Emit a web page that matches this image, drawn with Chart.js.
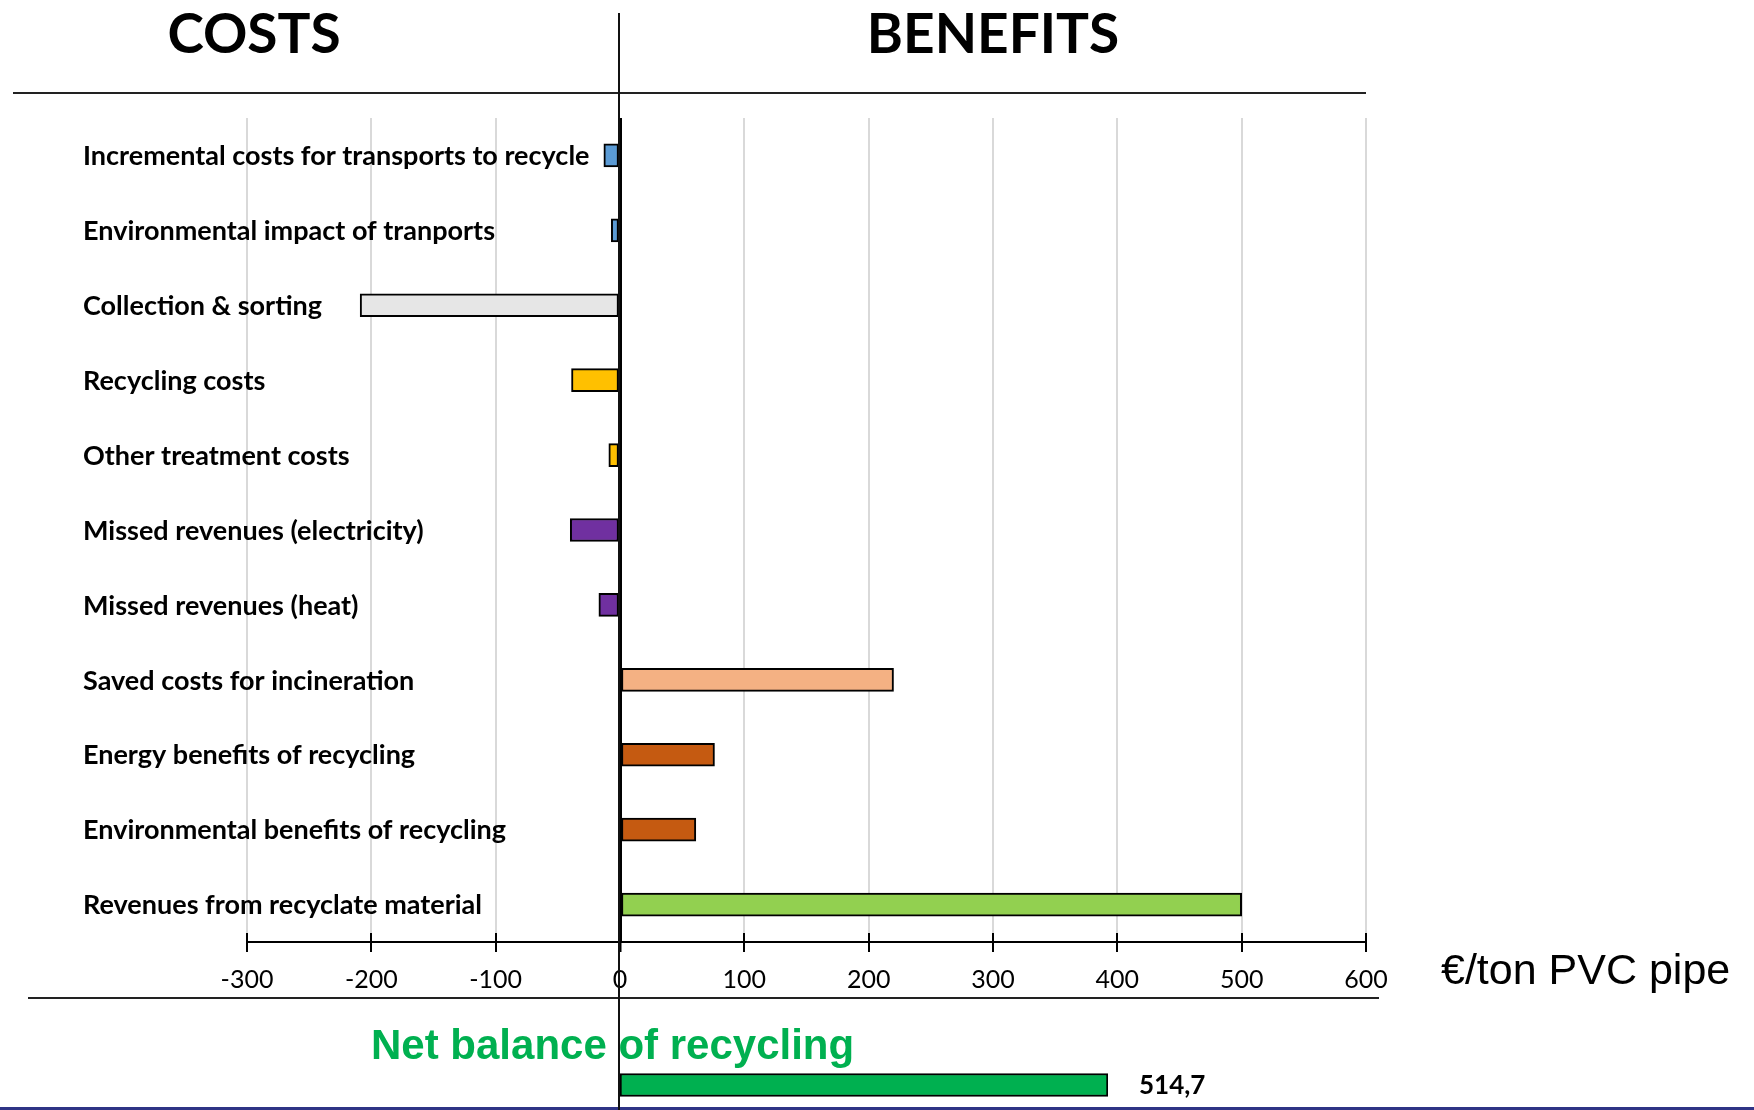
<!DOCTYPE html>
<html>
<head>
<meta charset="utf-8">
<script src="https://cdn.jsdelivr.net/npm/chart.js@4/dist/chart.umd.min.js"></script>
<style>
  html, body { margin: 0; padding: 0; background: #fff; }
  #wrap { position: relative; width: 1754px; height: 1110px; overflow: hidden; background: #fff; }
  canvas { position: absolute; left: 0; }
  .t { position: absolute; white-space: nowrap; line-height: 1; }
  .ln { position: absolute; }
</style>
</head>
<body>
<div id="wrap">
  <canvas id="main" width="1754" height="1110" style="top:0"></canvas>
  <canvas id="net" width="1754" height="50" style="top:1060px"></canvas>

  <div class="t" style="left:154px;width:200px;text-align:center;top:-1px;font:700 55px Lato;color:#000">COSTS</div>
  <div class="t" style="left:843px;width:300px;text-align:center;top:-1px;font:700 55px Lato;color:#000">BENEFITS</div>
  <div class="t" style="left:1441px;top:945px;font:400 43px 'Liberation Sans';color:#000">€/ton PVC pipe</div>
  <div class="t" style="left:371px;top:1021px;font:700 42px 'Liberation Sans';color:#00b050">Net balance of recycling</div>

  <div class="ln" style="left:13px;top:92px;width:1353px;height:2px;background:#222"></div>
  <div class="ln" style="left:28px;top:997px;width:1351px;height:2px;background:#222"></div>
  <div class="ln" style="left:618px;top:13px;width:2px;height:1097px;background:#111;z-index:5"></div>
  <div class="ln" style="left:0;top:1107px;width:1754px;height:3px;background:#2f3485"></div>
</div>
<script>
// ---- data ----
const categories = [
  "Incremental costs for transports to recycle",
  "Environmental impact of tranports",
  "Collection & sorting",
  "Recycling costs",
  "Other treatment costs",
  "Missed revenues (electricity)",
  "Missed revenues (heat)",
  "Saved costs for incineration",
  "Energy benefits of recycling",
  "Environmental benefits of recycling",
  "Revenues from recyclate material"
];
const values = [-13, -7, -209, -39, -9, -40, -17, 220, 76, 61, 500];
const xTicksMin = -300;
const xTicksMax = 600;
const xTickStep = 100;
const netBalance = 514.7;

// ---- styles ----
const barColors = ["#5b9bd5", "#5b9bd5", "#e6e6e6", "#ffc000", "#ffc000",
                   "#7030a0", "#7030a0", "#f4b183", "#c55a11", "#c55a11", "#92d050"];

const categoryLabelPlugin = {
  id: 'catLabels',
  afterDraw(chart) {
    const ctx = chart.ctx;
    const ys = chart.scales.y;
    const xs = chart.scales.x;
    ctx.save();
    ctx.font = '700 27px Lato';
    ctx.fillStyle = '#000';
    ctx.textAlign = 'left';
    ctx.textBaseline = 'middle';
    categories.forEach((c, i) => {
      ctx.fillText(c, 83, ys.getPixelForValue(i) + 1);
    });
    // tick marks crossing the axis (upper half)
    ctx.strokeStyle = '#000';
    ctx.lineWidth = 2;
    const b = chart.chartArea.bottom;
    xs.ticks.forEach(t => {
      const px = Math.round(xs.getPixelForValue(t.value));
      ctx.beginPath();
      ctx.moveTo(px, b - 9);
      ctx.lineTo(px, b);
      ctx.stroke();
    });
    ctx.restore();
  }
};

new Chart(document.getElementById('main'), {
  type: 'bar',
  data: {
    labels: categories,
    datasets: [{
      data: values,
      backgroundColor: barColors,
      borderColor: '#000',
      borderWidth: 2,
      borderSkipped: false,
      barThickness: 23
    }]
  },
  options: {
    indexAxis: 'y',
    responsive: false,
    animation: false,
    devicePixelRatio: 1,
    layout: { padding: { left: 247, right: 388, top: 118, bottom: 112 } },
    plugins: { legend: { display: false }, tooltip: { enabled: false } },
    scales: {
      y: { display: false },
      x: {
        min: xTicksMin,
        max: xTicksMax,
        afterFit(scale) { scale.height = 56; },
        ticks: {
          stepSize: xTickStep,
          color: '#000',
          padding: 13,
          font: { family: 'Lato', size: 25 }
        },
        grid: {
          color: c => (c.tick && c.tick.value === 0) ? '#000' : '#d9d9d9',
          lineWidth: c => (c.tick && c.tick.value === 0) ? 3 : 2,
          tickColor: '#000',
          tickWidth: 2,
          tickLength: 10,
          drawTicks: true
        },
        border: { display: true, color: '#000', width: 2 }
      }
    }
  },
  plugins: [categoryLabelPlugin]
});

const netLabelPlugin = {
  id: 'netLabel',
  afterDraw(chart) {
    const ctx = chart.ctx;
    const xs = chart.scales.x;
    const ys = chart.scales.y;
    ctx.save();
    ctx.font = '700 26px Lato';
    ctx.fillStyle = '#000';
    ctx.textAlign = 'left';
    ctx.textBaseline = 'middle';
    ctx.fillText(String(netBalance).replace('.', ','), xs.getPixelForValue(netBalance) + 31, ys.getPixelForValue(0) + 1);
    ctx.restore();
  }
};

new Chart(document.getElementById('net'), {
  type: 'bar',
  data: {
    labels: ["Net balance of recycling"],
    datasets: [{
      data: [netBalance],
      backgroundColor: '#00b050',
      borderColor: '#000',
      borderWidth: 2,
      borderSkipped: false,
      barThickness: 23
    }]
  },
  options: {
    indexAxis: 'y',
    responsive: false,
    animation: false,
    devicePixelRatio: 1,
    layout: { padding: { left: 620, right: 646, top: 0, bottom: 0 } },
    plugins: { legend: { display: false }, tooltip: { enabled: false } },
    scales: {
      y: { display: false },
      x: { display: false, min: 0, max: netBalance }
    }
  },
  plugins: [netLabelPlugin]
});
</script>
</body>
</html>
